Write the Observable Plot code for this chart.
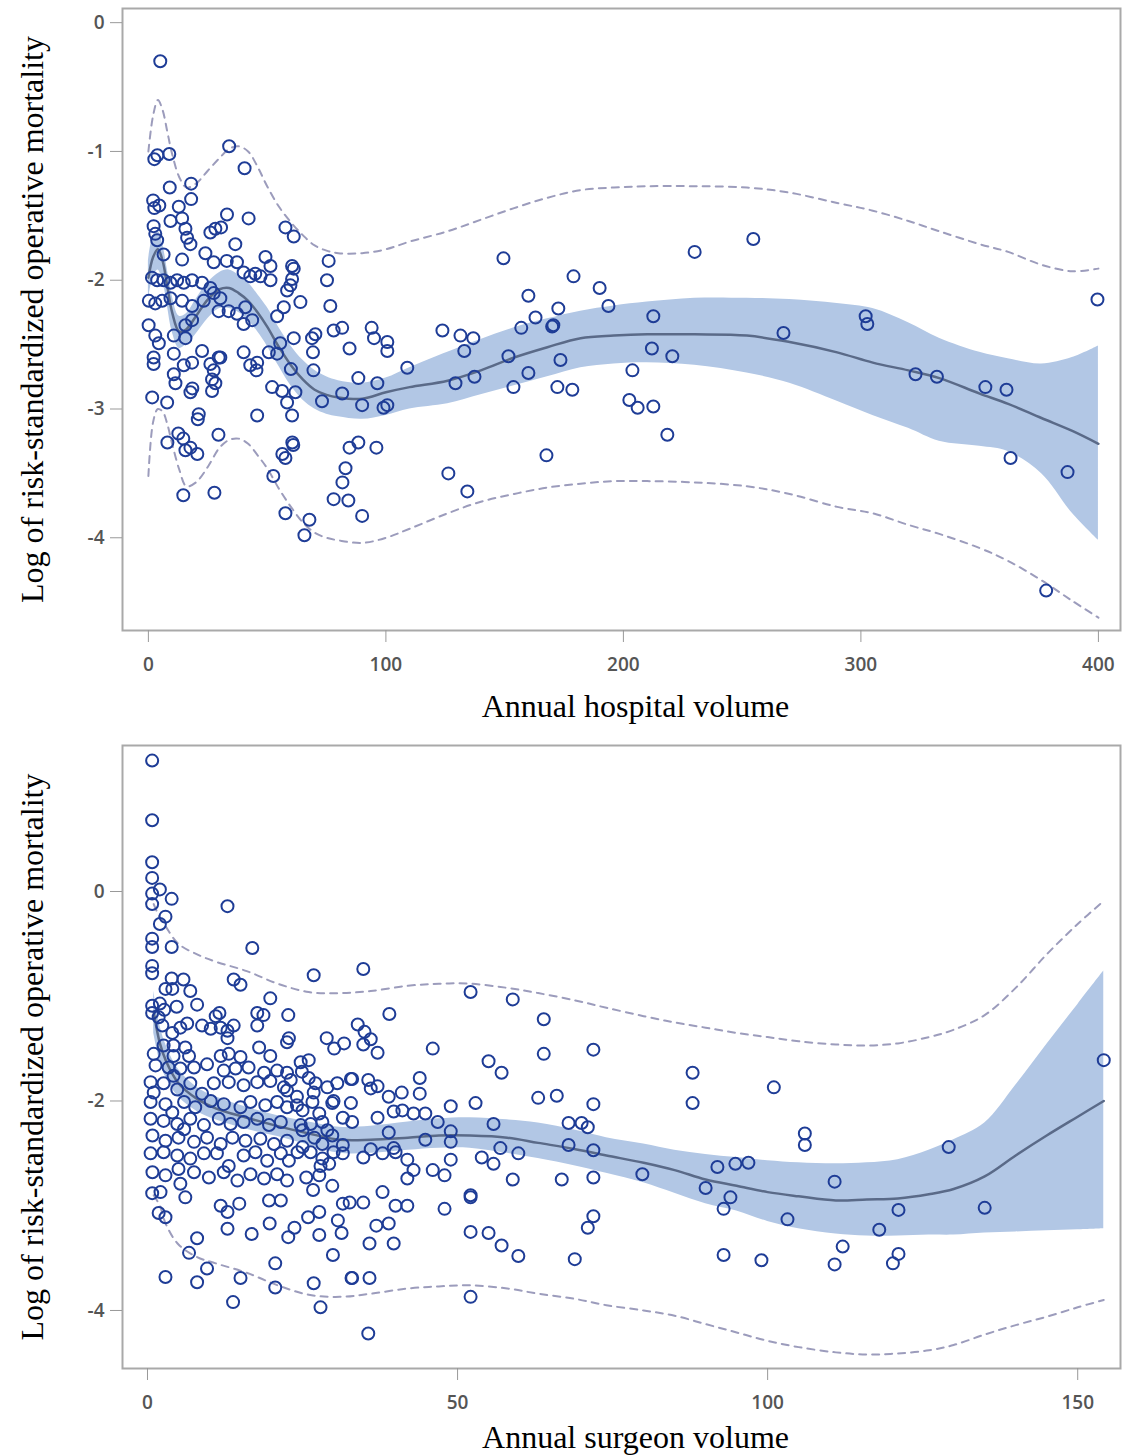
<!DOCTYPE html>
<html><head><meta charset="utf-8">
<script src="https://cdn.jsdelivr.net/npm/d3@7"></script>
<script src="https://cdn.jsdelivr.net/npm/@observablehq/plot@0.6"></script>
<style>
body{margin:0;background:#fff;}
#c{width:1134px;}
#c svg{display:block;}
</style></head><body><div id="c"></div>
<script>
// ---------- Panel 1: hospital volume ----------
const hospitalPoints = [
[5,-0.30],[2.5,-1.06],[3.8,-1.03],[8.8,-1.02],[34,-0.96],[40.5,-1.13],[9,-1.28],[18,-1.25],[18,-1.37],[2,-1.38],[2.5,-1.44],[4.6,-1.42],[12.8,-1.43],
[2.2,-1.58],[2.9,-1.64],[3.7,-1.69],[9.3,-1.54],[14.2,-1.52],[15.6,-1.60],[16.3,-1.67],[17.7,-1.72],[26.1,-1.63],[28.2,-1.60],[30.6,-1.59],[33.1,-1.49],[42.2,-1.52],[36.6,-1.72],[57.7,-1.59],[61.2,-1.66],[6.4,-1.80],[14.2,-1.84],[24,-1.79],[27.5,-1.86],[33,-1.85],[37.3,-1.86],[49.3,-1.82],[51.4,-1.89],[60.5,-1.89],[61.2,-1.91],[75.9,-1.85],[75.2,-2.0],[76.6,-2.20],
[1.5,-1.98],[3.7,-2.0],[6.4,-2.0],[9.3,-2.02],[12.1,-2.0],[14.9,-2.02],[18.4,-2.0],[22.6,-2.02],[26.1,-2.06],[27.5,-2.10],[30.3,-2.14],
[40.1,-1.94],[42.9,-1.97],[45,-1.95],[47.2,-1.97],[51.4,-2.0],[58.4,-2.08],[59.8,-2.04],[60.5,-1.99],[64,-2.17],
[0.2,-2.16],[2.9,-2.18],[5.8,-2.16],[9.3,-2.14],[14.2,-2.16],[18.4,-2.20],[23.3,-2.16],[29.6,-2.24],[33.8,-2.24],[37.3,-2.26],[40.8,-2.21],[40.1,-2.34],[43.7,-2.31],
[0.1,-2.35],[2.9,-2.43],[4.4,-2.49],[10.7,-2.43],[15.6,-2.35],[15.6,-2.45],[18.4,-2.31],[22.6,-2.55],[30.3,-2.60],
[40.1,-2.56],[42.9,-2.66],[45.8,-2.64],[50.7,-2.56],[54.2,-2.57],[54.2,-2.28],[57,-2.21],[61.2,-2.45],[68.9,-2.45],[70.3,-2.42],[78,-2.39],[81.6,-2.37],
[10.7,-2.57],[14.9,-2.66],[18.4,-2.64],[26.1,-2.65],[27.5,-2.70],[26.8,-2.77],[29.6,-2.60],[28.2,-2.80],
[2.2,-2.60],[2.2,-2.65],[10.7,-2.73],[11.4,-2.80],[17.7,-2.87],[26.8,-2.86],[18.5,-2.84],
[52.1,-2.83],[56.3,-2.86],[58.4,-2.95],[61.9,-2.87],[60.5,-3.05],[45.8,-3.05],[21.2,-3.04],[20.8,-3.08],[1.6,-2.91],[7.9,-2.95],[73.1,-2.94],[81.6,-2.88],
[45.5,-2.70],[55.5,-2.49],[60,-2.69],[69.3,-2.56],[69.5,-2.70],[84.7,-2.53],
[8,-3.26],[12.6,-3.19],[14.7,-3.23],[15.6,-3.32],[17.7,-3.30],[20.6,-3.35],[29.5,-3.20],[60.6,-3.26],[61,-3.28],[56.4,-3.35],[57.7,-3.38],[84.7,-3.30],[88.4,-3.26],[96,-3.30],[83,-3.46],[81.7,-3.57],[84.2,-3.71],[78,-3.70],[90,-3.83],[52.6,-3.52],[14.7,-3.67],[27.8,-3.65],[57.7,-3.81],[67.8,-3.86],[65.7,-3.98],
[88.4,-2.76],[96.4,-2.80],[90,-2.97],[99,-2.99],[100.6,-2.97],[94,-2.37],[95,-2.45],[100.6,-2.48],[100.6,-2.55],
[149.5,-1.83],[179,-1.97],[190,-2.06],[160,-2.12],[193.7,-2.20],[172.6,-2.22],[163,-2.29],[157,-2.37],[170,-2.36],[170.5,-2.35],[212.6,-2.28],[123.8,-2.39],[131.4,-2.43],[136.8,-2.45],[109,-2.68],[133,-2.55],[151.6,-2.59],[173.5,-2.62],[212,-2.53],[220.6,-2.59],[129.3,-2.80],[137.3,-2.75],[160,-2.72],[153.7,-2.83],[172.2,-2.83],[178.5,-2.85],[203.8,-2.70],[202.5,-2.93],[206,-2.99],[212.6,-2.98],[218.5,-3.20],[167.6,-3.36],[126.3,-3.50],[134.3,-3.64],[254.7,-1.68],[230,-1.78],[267.4,-2.41],
[399.6,-2.15],[302,-2.28],[302.7,-2.34],[323,-2.73],[332,-2.75],[352.4,-2.83],[361.3,-2.85],[363,-3.38],[387,-3.49],[378,-4.41]
];
const hospitalGrid = [0,2,4,6,8,10,13,16,20,25,30,34,38,42,46,50,55,60,65,70,75,80,90,100,110,126,140,154,168,182,196,210,230,252,270,290,305,320,333,350,362,376,389,400];
const hospitalFit  = [-1.98,-1.82,-1.76,-1.85,-2.05,-2.25,-2.40,-2.38,-2.28,-2.15,-2.07,-2.06,-2.10,-2.16,-2.25,-2.36,-2.52,-2.66,-2.77,-2.85,-2.89,-2.91,-2.92,-2.87,-2.83,-2.78,-2.70,-2.60,-2.52,-2.45,-2.43,-2.42,-2.42,-2.43,-2.48,-2.56,-2.64,-2.70,-2.76,-2.88,-2.96,-3.07,-3.17,-3.27];
const hospitalCIHi = [-1.85,-1.66,-1.62,-1.72,-1.92,-2.12,-2.28,-2.26,-2.15,-2.02,-1.94,-1.92,-1.96,-2.02,-2.11,-2.21,-2.37,-2.51,-2.62,-2.70,-2.75,-2.78,-2.80,-2.76,-2.68,-2.56,-2.46,-2.37,-2.30,-2.24,-2.20,-2.17,-2.14,-2.14,-2.15,-2.18,-2.22,-2.33,-2.45,-2.56,-2.61,-2.65,-2.60,-2.51];
const hospitalCILo = [-2.15,-1.98,-1.92,-2.00,-2.20,-2.40,-2.53,-2.50,-2.42,-2.30,-2.22,-2.22,-2.25,-2.31,-2.40,-2.51,-2.67,-2.82,-2.93,-3.00,-3.04,-3.06,-3.08,-3.05,-3.00,-2.96,-2.89,-2.82,-2.75,-2.68,-2.65,-2.64,-2.66,-2.72,-2.80,-2.94,-3.05,-3.15,-3.25,-3.29,-3.33,-3.50,-3.81,-4.02];
const hospitalPIHi = [-1.00,-0.72,-0.60,-0.68,-0.85,-1.02,-1.20,-1.28,-1.25,-1.15,-1.05,-0.98,-0.96,-1.00,-1.12,-1.27,-1.43,-1.55,-1.65,-1.73,-1.77,-1.79,-1.79,-1.76,-1.70,-1.62,-1.53,-1.44,-1.36,-1.30,-1.28,-1.27,-1.27,-1.28,-1.32,-1.40,-1.46,-1.54,-1.62,-1.72,-1.78,-1.88,-1.93,-1.91];
const hospitalPILo = [-3.52,-3.10,-3.00,-3.02,-3.12,-3.27,-3.47,-3.60,-3.57,-3.45,-3.30,-3.24,-3.23,-3.27,-3.36,-3.46,-3.62,-3.76,-3.88,-3.96,-4.00,-4.02,-4.04,-4.00,-3.93,-3.81,-3.72,-3.66,-3.61,-3.58,-3.56,-3.56,-3.57,-3.60,-3.66,-3.76,-3.81,-3.90,-3.97,-4.08,-4.18,-4.33,-4.49,-4.62];
const hospitalXTicks = [0,100,200,300,400];
const hospitalYTicks = [0,-1,-2,-3,-4];

// ---------- Panel 2: surgeon volume ----------
const surgeonPoints = [
[0.75,1.25],[0.75,0.68],[0.75,0.28],[0.75,0.13],[0.75,-0.02],[2,0.02],[0.75,-0.12],[3.9,-0.07],[12.9,-0.14],[2.9,-0.24],[2,-0.31],[0.75,-0.45],[0.75,-0.53],[3.9,-0.53],[16.9,-0.54],[0.75,-0.71],[0.75,-0.78],[26.8,-0.80],[3.9,-0.83],[5.8,-0.84],[2.9,-0.93],[6.9,-0.95],[4,-0.93],[13.9,-0.84],[15,-0.89],[0.75,-1.09],[2,-1.07],[4.7,-1.10],[8,-1.08],[2.7,-1.13],[19.8,-1.02],[22.7,-1.18],[17.7,-1.16],[18.7,-1.18],[11,-1.19],[11.6,-1.16],[0.75,-1.16],[1.8,-1.20],
[2.4,-1.28],[4,-1.35],[5.3,-1.30],[6.4,-1.26],[8.8,-1.28],[10.2,-1.31],[11.8,-1.30],[12.9,-1.33],[13.9,-1.28],[12.9,-1.40],[17.7,-1.28],[22.8,-1.40],[28.9,-1.40],[30.1,-1.50],[31.7,-1.45],
[2.6,-1.47],[4.2,-1.47],[6.1,-1.49],[6.7,-1.57],[4.2,-1.57],[1.0,-1.55],[11.8,-1.57],[13.1,-1.55],[15,-1.58],[18,-1.49],[19.8,-1.57],
[1.3,-1.66],[3.4,-1.68],[5.3,-1.69],[7.5,-1.68],[9.6,-1.65],[12.3,-1.71],[14.2,-1.69],[16.3,-1.68],[18.8,-1.73],[20.9,-1.71],[22.5,-1.73],[4.2,-1.76],
[0.5,-1.82],[2.6,-1.83],[4.8,-1.89],[6.9,-1.83],[8.8,-1.93],[10.7,-1.83],[13.1,-1.82],[15.5,-1.85],[17.7,-1.82],[19.8,-1.81],[22,-1.87],[1,-1.92],
[0.5,-2.01],[2.9,-2.03],[5.9,-2.01],[7.7,-2.06],[10.2,-2.0],[12.3,-2.03],[15,-2.06],[16.6,-2.01],[19,-2.04],[20.9,-2.01],[22.5,-2.06],[4,-2.11],
[0.5,-2.17],[2.6,-2.19],[4.8,-2.22],[6.9,-2.17],[9.1,-2.23],[11.5,-2.17],[13.4,-2.22],[15.5,-2.20],[17.7,-2.17],[19.6,-2.23],[21.5,-2.20],[5.9,-2.27],
[0.8,-2.33],[2.9,-2.38],[5,-2.35],[7.5,-2.39],[9.6,-2.35],[11.8,-2.41],[13.7,-2.35],[15.8,-2.38],[18.2,-2.36],[20.4,-2.41],[22.5,-2.38],
[0.5,-2.50],[2.6,-2.49],[4.8,-2.52],[6.9,-2.55],[9.1,-2.50],[11.2,-2.50],[13.1,-2.62],[15.5,-2.52],[17.4,-2.49],[19.3,-2.57],[21.5,-2.50],
[0.8,-2.68],[2.9,-2.71],[5,-2.65],[7.5,-2.68],[9.9,-2.73],[12.3,-2.68],[14.5,-2.76],[16.6,-2.70],[18.8,-2.74],[20.9,-2.70],[22.5,-2.76],[5.3,-2.79],
[24.7,-1.63],[26,-1.61],[26,-1.78],[27.1,-1.83],[29,-1.87],[30.6,-1.83],[32.8,-1.79],
[25,-2.09],[26.6,-2.01],[27.7,-2.12],[29.8,-2.02],[31.5,-2.16],[32.8,-2.02],
[25,-2.28],[26.9,-2.35],[28.2,-2.41],[29.8,-2.33],[31.5,-2.42],
[24.2,-2.49],[26.3,-2.49],[28.2,-2.55],[29.3,-2.60],[31.5,-2.50],
[25.6,-2.73],[26.7,-2.85],[27.7,-2.71],[29.8,-2.81],[31.5,-2.98],[21.5,-2.95],[19.6,-2.95],
[22.5,-1.44],[24.9,-1.72],[23.1,-1.80],[22.5,-1.90],[24.1,-1.96],[26.8,-1.92],[30,-2.0],[24.1,-2.04],[24.7,-2.23],[26.3,-2.22],[28.2,-2.20],[29,-2.28],[25,-2.44],[22.8,-2.57],[27.9,-2.62],[30,-2.49],
[0.76,-2.88],[2.1,-2.87],[6.1,-2.92],[11.8,-3.0],[12.9,-3.06],[14.8,-2.98],[12.9,-3.22],[16.8,-3.27],[19.7,-3.17],[22.7,-3.30],[23.7,-3.21],[25.9,-3.11],[27.7,-3.06],[27.7,-3.28],[30.7,-3.14],[31.3,-3.26],[29.9,-3.47],[32.6,-2.97],[32.9,-3.69],
[1.8,-3.07],[2.9,-3.11],[8,-3.31],[6.7,-3.45],[9.6,-3.60],[8,-3.73],[2.9,-3.68],[15,-3.69],[13.8,-3.92],[20.6,-3.55],[20.6,-3.78],[26.8,-3.74],[27.9,-3.97],[35.6,-4.22],
[34.8,-0.74],[52.1,-0.96],[58.9,-1.03],[39,-1.17],[63.9,-1.22],[33.9,-1.27],[35,-1.34],[36,-1.41],[34.8,-1.46],[37.1,-1.54],[46,-1.50],[63.9,-1.55],[71.9,-1.51],[55,-1.62],[57.1,-1.73],[87.9,-1.73],[87.9,-2.02],
[33,-1.79],[35.6,-1.80],[37.1,-1.86],[36,-1.88],[43.9,-1.78],[43.9,-1.93],[41,-1.92],[38.9,-1.96],[63,-1.97],[66,-1.95],[71.9,-2.03],[33,-2.20],
[39.7,-2.10],[41.1,-2.09],[42.9,-2.12],[44.8,-2.12],[46.8,-2.20],[48.9,-2.05],[52.9,-2.02],[37.1,-2.16],[55.8,-2.22],[67.9,-2.21],[70,-2.21],[71,-2.25],
[38.9,-2.30],[48.9,-2.29],[48.9,-2.39],[44.8,-2.37],
[36,-2.46],[37.9,-2.50],[39.7,-2.45],[40,-2.49],[34.8,-2.54],
[56.9,-2.45],[59.8,-2.50],[67.9,-2.42],[71.9,-2.47],
[48.9,-2.56],[53.9,-2.54],[55.8,-2.60],[41.9,-2.56],[42.9,-2.66],[46,-2.66],[41.9,-2.74],[47.9,-2.71],
[58.9,-2.75],[66.8,-2.75],[71.9,-2.73],[79.8,-2.70],
[90,-2.83],[91.9,-2.63],[94.8,-2.60],[94,-2.92],[92.9,-3.03],
[37.9,-2.87],[34.8,-2.97],[40,-3.0],[41.9,-3.0],[52.1,-2.90],[52.1,-2.92],[47.9,-3.03],
[71.9,-3.10],[71,-3.21],[36.9,-3.19],[38.9,-3.17],
[52.1,-3.25],[55,-3.26],[57.1,-3.38],[59.8,-3.48],[68.9,-3.51],[35.8,-3.36],[39.7,-3.36],[92.9,-3.47],[33,-3.69],[35.8,-3.69],[52.1,-3.87],
[101,-1.87],[106,-2.31],[106,-2.42],[129.2,-2.44],[154.2,-1.61],[96.9,-2.59],[110.8,-2.77],[103.2,-3.13],[121.1,-3.04],[118,-3.23],[135,-3.02],[99,-3.52],[112.1,-3.39],[110.8,-3.56],[121.1,-3.46],[120.2,-3.55]
];
const surgeonGrid = [1,2,3,5,8,11,16,21,26,31,36,42,47,52,58,63,69,74,80,85,90,95,100,105,111,116,121,126,130,135,140,145,150,154.2];
const surgeonFit  = [-1.15,-1.45,-1.62,-1.83,-1.98,-2.07,-2.16,-2.24,-2.31,-2.37,-2.37,-2.35,-2.33,-2.33,-2.35,-2.40,-2.46,-2.52,-2.59,-2.66,-2.75,-2.81,-2.87,-2.91,-2.95,-2.94,-2.93,-2.89,-2.84,-2.72,-2.52,-2.33,-2.15,-2.00];
const surgeonCIHi = [-0.95,-1.28,-1.47,-1.70,-1.87,-1.96,-2.06,-2.14,-2.20,-2.25,-2.24,-2.20,-2.17,-2.16,-2.18,-2.21,-2.28,-2.35,-2.41,-2.47,-2.51,-2.54,-2.57,-2.59,-2.60,-2.59,-2.56,-2.47,-2.37,-2.21,-1.85,-1.46,-1.08,-0.76];
const surgeonCILo = [-1.35,-1.62,-1.78,-1.96,-2.10,-2.18,-2.27,-2.34,-2.42,-2.50,-2.50,-2.47,-2.45,-2.45,-2.50,-2.55,-2.62,-2.69,-2.78,-2.88,-2.98,-3.05,-3.15,-3.22,-3.27,-3.29,-3.29,-3.28,-3.28,-3.26,-3.25,-3.24,-3.23,-3.22];
const surgeonPIHi = [-0.12,-0.25,-0.34,-0.50,-0.60,-0.67,-0.76,-0.88,-0.96,-0.97,-0.95,-0.90,-0.88,-0.88,-0.92,-0.97,-1.04,-1.11,-1.19,-1.25,-1.30,-1.35,-1.39,-1.43,-1.46,-1.47,-1.45,-1.39,-1.32,-1.18,-0.92,-0.60,-0.31,-0.09];
const surgeonPILo = [-2.90,-3.00,-3.18,-3.37,-3.49,-3.55,-3.64,-3.76,-3.85,-3.87,-3.84,-3.79,-3.77,-3.76,-3.79,-3.84,-3.89,-3.95,-4.00,-4.05,-4.13,-4.21,-4.29,-4.35,-4.40,-4.42,-4.41,-4.38,-4.33,-4.23,-4.14,-4.06,-3.97,-3.90];
const surgeonXTicks = [0,50,100,150];
const surgeonYTicks = [0,-2,-4];

const yTitle = "Log of risk-standardized operative mortality";

function panel(cfg) {
  const pts = cfg.points.map(([x, y]) => ({x, y}));
  const curve = cfg.grid.map((x, i) => ({x, fit: cfg.fit[i], lo: cfg.lo[i], hi: cfg.hi[i], plo: cfg.plo[i], phi: cfg.phi[i]}));
  const axisFont = {fontSize: 19, fontFamily: "'Open Sans', 'DejaVu Sans', sans-serif", fontWeight: 600};
  const serif = "'Liberation Serif', 'Times New Roman', serif";
  const dash = {stroke: "#9c9cbc", strokeWidth: 2, strokeDasharray: "7,6", curve: "catmull-rom"};
  return Plot.plot({
    width: 1134, height: cfg.height,
    marginLeft: 122, marginRight: 14, marginTop: cfg.mt, marginBottom: cfg.mb,
    x: {domain: cfg.xd}, y: {domain: cfg.yd},
    style: {background: "#fff", overflow: "visible"},
    marks: [
      Plot.areaY(curve, {x: "x", y1: "lo", y2: "hi", fill: "#b2c7e5", curve: "catmull-rom"}),
      Plot.lineY(curve, {x: "x", y: "phi", ...dash}),
      Plot.lineY(curve, {x: "x", y: "plo", ...dash}),
      Plot.lineY(curve, {x: "x", y: "fit", stroke: "#5a6a88", strokeWidth: 2.5, curve: "catmull-rom"}),
      Plot.dot(pts, {x: "x", y: "y", r: 6, stroke: "#1e3c96", strokeWidth: 2, fill: "none"}),
      Plot.frame({stroke: "#a9a9a9", strokeWidth: 2}),
      Plot.axisX({ticks: cfg.xt, tickSize: 12, tickPadding: 15, tickFormat: d => String(d), stroke: "#999", fill: "#555", label: null, ...axisFont}),
      Plot.axisY({ticks: cfg.yt, tickSize: 12, tickPadding: 6, tickFormat: d => String(d), stroke: "#999", fill: "#555", label: null, ...axisFont}),
      Plot.text([cfg.xlabel], {text: d => d, frameAnchor: "bottom", textAnchor: "middle", lineAnchor: "middle", dx: 14, dy: cfg.xlabelDy, fontSize: 32, fontFamily: serif, fill: "#000"}),
      Plot.text([yTitle], {text: d => d, frameAnchor: "left", textAnchor: "middle", lineAnchor: "middle", dx: -90, rotate: -90, fontSize: 32, fontFamily: serif, fill: "#000"})
    ]
  });
}

const c = document.getElementById("c");
c.appendChild(panel({
  points: hospitalPoints, grid: hospitalGrid, fit: hospitalFit, lo: hospitalCILo, hi: hospitalCIHi, plo: hospitalPILo, phi: hospitalPIHi,
  xd: [-10.9, 409.3], yd: [-4.72, 0.11], xt: hospitalXTicks, yt: hospitalYTicks,
  height: 730, mt: 8, mb: 100, xlabel: "Annual hospital volume", xlabelDy: 76
}));
c.appendChild(panel({
  points: surgeonPoints, grid: surgeonGrid, fit: surgeonFit, lo: surgeonCILo, hi: surgeonCIHi, plo: surgeonPILo, phi: surgeonPIHi,
  xd: [-4.03, 156.9], yd: [-4.554, 1.394], xt: surgeonXTicks, yt: surgeonYTicks,
  height: 726, mt: 15, mb: 88, xlabel: "Annual surgeon volume", xlabelDy: 69
}));
</script></body></html>
